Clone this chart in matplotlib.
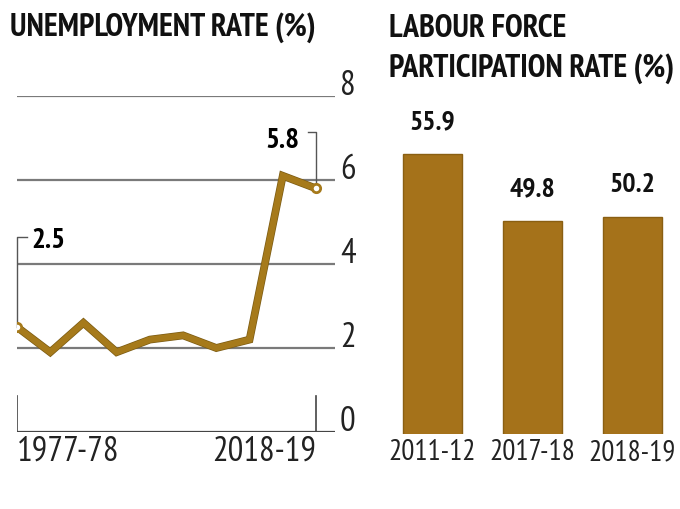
import matplotlib
matplotlib.use("Agg")
import matplotlib.pyplot as plt
import matplotlib.patheffects as pe

# unemployment rate (%), survey rounds 1977-78 .. 2018-19
years = ["1977-78", "1983", "1987-88", "1993-94", "1999-00",
         "2004-05", "2009-10", "2011-12", "2017-18", "2018-19"]
unemp = [2.5, 1.9, 2.6, 1.9, 2.2, 2.3, 2.0, 2.2, 6.1, 5.8]
unemp_ticks = [0, 2, 4, 6, 8]

# labour force participation rate (%)
lfpr_years = ["2011-12", "2017-18", "2018-19"]
lfpr = [55.9, 49.8, 50.2]

GOLD = "#a67a1b"
BAR = "#a5721a"
GRID = "#7a7a7a"

plt.rcParams["font.family"] = ["PT Sans Narrow", "DejaVu Sans"]

fig = plt.figure(figsize=(6.8, 5.1), dpi=100)

# ---- left: unemployment line ----
ax = fig.add_axes([17 / 680, 77 / 510, 318 / 680, 336 / 510])
x = list(range(len(years)))
ax.set_xlim(0, (335 - 17) / ((316 - 17) / 9))
ax.set_ylim(0, 8)
for t in unemp_ticks:
    ax.axhline(t, color=GRID if t else "#444444", lw=1.6, zorder=1)
    ax.text(1.04, t / 8 + 0.033, str(t), transform=ax.transAxes, ha="center",
            va="center", fontsize=25, color="#222222", clip_on=False)
ax.plot(x, unemp, color=GOLD, lw=4.6, solid_joinstyle="miter", zorder=3,
        path_effects=[pe.withStroke(linewidth=5.6, foreground="#7a5a12")])
ax.plot([x[0], x[-1]], [unemp[0], unemp[-1]], "o", ms=6, mfc="white",
        mec=GOLD, mew=2, zorder=4)
# end ticks on the baseline
for xi in (x[0], x[-1]):
    ax.plot([xi, xi], [0, 0.85], color="#444444", lw=1.2, zorder=2)
# leader-line annotations
ax.plot([x[0], x[0], x[0] + 0.3], [unemp[0], 4.65, 4.65], color="#555555",
        lw=1, clip_on=False, zorder=2)
ax.text(x[0] + 0.42, 4.58, f"{unemp[0]}", fontsize=21, fontweight="bold",
        ha="left", va="center", clip_on=False)
ax.plot([x[-1], x[-1], x[-1] - 0.24], [unemp[-1], 7.14, 7.14], color="#555555",
        lw=1, clip_on=False, zorder=2)
ax.text(x[-1] - 0.5, 6.95, f"{unemp[-1]}", fontsize=21, fontweight="bold",
        ha="right", va="center", clip_on=False)
ax.set_xticks([x[0], x[-1]])
ax.set_xticklabels([years[0], years[-1]], fontsize=25, color="#222222")
ax.get_xticklabels()[0].set_ha("left")
ax.get_xticklabels()[1].set_ha("right")
ax.tick_params(length=0, pad=2)
ax.set_yticks([])
for s in ax.spines.values():
    s.set_visible(False)
fig.text(10 / 680, 1 - 28 / 510, "UNEMPLOYMENT RATE (%)", fontsize=23,
         fontweight="bold", ha="left", va="center", color="#111111")

# ---- right: labour force participation bars ----
bx = fig.add_axes([380 / 680, 75 / 510, 300 / 680, 335 / 510])
bx.set_xlim(-0.52, 2.48)
bx.set_ylim(30.4, 30.4 + 335 / 10.98)
bars = bx.bar(range(len(lfpr)), lfpr, width=0.59, color=BAR,
              edgecolor="#8a5f12", lw=1)
for i, v in enumerate(lfpr):
    bx.text(i, v + 3.0, f"{v}", ha="center", va="center", fontsize=20,
            fontweight="bold", color="#111111")
bx.set_xticks(range(len(lfpr)))
bx.set_xticklabels(lfpr_years, fontsize=21, color="#222222")
bx.tick_params(length=0, pad=3)
bx.set_yticks([])
for s in bx.spines.values():
    s.set_visible(False)
fig.text(389 / 680, 1 - 49 / 510, "LABOUR FORCE\nPARTICIPATION RATE (%)",
         fontsize=23, fontweight="bold", ha="left", va="center",
         color="#111111", linespacing=1.35)

fig.savefig("out.png", dpi=100, facecolor="white")
